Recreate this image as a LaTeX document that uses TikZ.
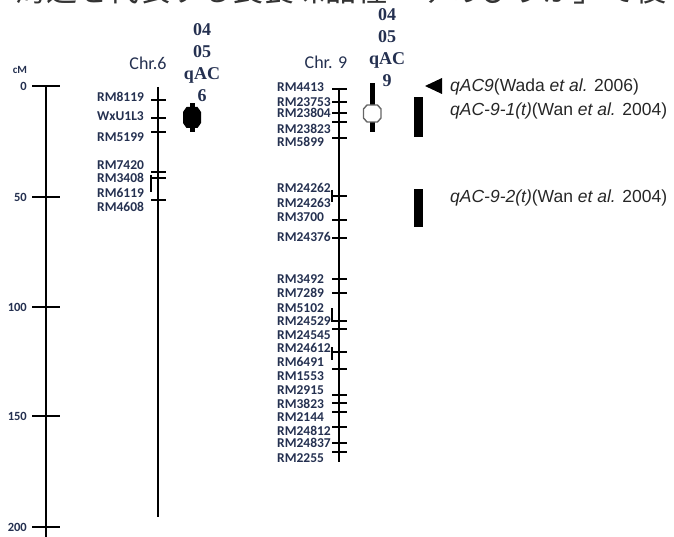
\documentclass[tikz,border=0pt]{standalone}
\usepackage{fontspec}
\setmainfont{Carlito}
\newfontfamily\serifbf{Liberation Serif}
\newfontfamily\arialf{Liberation Sans}
\newfontfamily\cjk{Noto Sans CJK JP}
\usetikzlibrary{positioning}
\definecolor{labnavy}{HTML}{243050}
\tikzstyle{mk} = [anchor=west, inner sep=0pt, font=\fontsize{13.5}{14}\selectfont\bfseries, text=labnavy]
\tikzstyle{axlab} = [anchor=east, inner sep=0pt, font=\fontsize{12.5}{13}\selectfont\bfseries, text=labnavy]
\tikzstyle{chrtitle} = [inner sep=0pt, font=\fontsize{18}{20}\selectfont, text=labnavy]
\tikzstyle{qtl} = [align=center, inner sep=0pt, font=\serifbf\fontsize{18}{22}\selectfont\bfseries, text=labnavy]
\tikzstyle{ref} = [anchor=west, inner sep=0pt, font=\arialf\fontsize{17.5}{20}\selectfont, text=black!85]
\tikzstyle{chr} = [line width=1.3pt]

\begin{document}
\begin{tikzpicture}[x=1pt, y=-1pt]
  \useasboundingbox (0,0) rectangle (674,537);
  \clip (0,0) rectangle (674,537);

  % cut-off line of text above the figure
  \node[anchor=base west, inner sep=0pt, font=\cjk\fontsize{31}{31}\selectfont, text=black!80] (head) at (15,1.5) {海道を代表する良食味品種「ゆめぴりか」で後};

  % scale bar
  \node[inner sep=0pt, font=\fontsize{11}{12}\selectfont\bfseries, text=labnavy] (cm) at (20,70) {cM};
  \coordinate (axtop) at (46,86);
  \coordinate (axbot) at (46,545);
  \draw[chr] (axtop) -- (axbot);
  \draw[chr] (32,86) -- (60,86) (32,197) -- (60,197) (32,307) -- (60,307) (32,416) -- (60,416) (32,527) -- (60,527);
  \node[axlab] (a0) at (27,86) {0};
  \node[axlab] (a50) at (27,197) {50};
  \node[axlab] (a100) at (27,307) {100};
  \node[axlab] (a150) at (27,416) {150};
  \node[axlab] (a200) at (27,527) {200};

  % chromosome 6
  \node[chrtitle] (t6) at (148,63) {Chr.6};
  \coordinate (c6top) at (158,87);
  \coordinate (c6bot) at (158,517);
  \draw[chr] (c6top) -- (c6bot);
  \draw[line width=1.2pt] (151,100) -- (166,100) (151,118) -- (166,118) (151,132) -- (166,132)
    (151,172) -- (166,172) (151,178) -- (166,178) (151,200) -- (166,200);
  \draw[line width=1.2pt] (151,175) -- (151,192);
  \node[mk] (rm8119) at (97,97) {RM8119};
  \node[mk] (wxu1l3) at (97,116) {WxU1L3};
  \node[mk] (rm5199) at (97,137) {RM5199};
  \node[mk] (rm7420) at (97,165) {RM7420};
  \node[mk] (rm3408) at (97,178) {RM3408};
  \node[mk] (rm6119) at (97,193) {RM6119};
  \node[mk] (rm4608) at (97,207) {RM4608};

  % qtl on chr 6
  \fill (189.5,103) rectangle (194.5,132);
  \fill (183,112) -- (186.5,107) -- (197.5,107) -- (201,112) -- (201,123) -- (197.5,128) -- (186.5,128) -- (183,123) -- cycle;
  \node[qtl] (q6) at (202,63) {04\\05\\qAC\\6};

  % chromosome 9
  \node[chrtitle] (t9) at (326,62) {Chr. 9};
  \coordinate (c9top) at (339,88);
  \coordinate (c9bot) at (339,462);
  \draw[chr] (c9top) -- (c9bot);
  \draw[line width=1.2pt] (332,89) -- (347,89) (332,102) -- (347,102) (332,113) -- (347,113)
    (332,122) -- (347,122) (332,138) -- (347,138) (332,196) -- (347,196) (332,220) -- (347,220)
    (332,238) -- (347,238) (332,279) -- (347,279) (332,293) -- (347,293) (332,321) -- (347,321)
    (332,329) -- (347,329) (332,352) -- (347,352) (332,369) -- (347,369) (332,395) -- (347,395)
    (332,403) -- (347,403) (332,412) -- (347,412) (332,427) -- (347,427) (332,443) -- (347,443)
    (332,452) -- (347,452);
  \draw[line width=1.2pt] (332,190) -- (332,202) (332,308) -- (332,322) (332,347) -- (332,360);
  \node[mk] (rm4413) at (277,87) {RM4413};
  \node[mk] (rm23753) at (277,102) {RM23753};
  \node[mk] (rm23804) at (277,113) {RM23804};
  \node[mk] (rm23823) at (277,129) {RM23823};
  \node[mk] (rm5899) at (277,142) {RM5899};
  \node[mk] (rm24262) at (277,188) {RM24262};
  \node[mk] (rm24263) at (277,203) {RM24263};
  \node[mk] (rm3700) at (277,217) {RM3700};
  \node[mk] (rm24376) at (277,237) {RM24376};
  \node[mk] (rm3492) at (277,279) {RM3492};
  \node[mk] (rm7289) at (277,293) {RM7289};
  \node[mk] (rm5102) at (277,308) {RM5102};
  \node[mk] (rm24529) at (277,321) {RM24529};
  \node[mk] (rm24545) at (277,335) {RM24545};
  \node[mk] (rm24612) at (277,348) {RM24612};
  \node[mk] (rm6491) at (277,362) {RM6491};
  \node[mk] (rm1553) at (277,376) {RM1553};
  \node[mk] (rm2915) at (277,390) {RM2915};
  \node[mk] (rm3823) at (277,404) {RM3823};
  \node[mk] (rm2144) at (277,417) {RM2144};
  \node[mk] (rm24812) at (277,431) {RM24812};
  \node[mk] (rm24837) at (277,443) {RM24837};
  \node[mk] (rm2255) at (277,458) {RM2255};

  % qtl on chr 9
  \fill (370,83) rectangle (374.5,132);
  \filldraw[fill=white, draw=black!60, line width=1.4pt] (363.5,109) -- (367,105) -- (377.5,105) -- (381,109) -- (381,118) -- (377.5,122) -- (367,122) -- (363.5,118) -- cycle;
  \node[qtl] (q9) at (387,48) {04\\05\\qAC\\9};

  % earlier reports
  \fill (425,86) -- (442,78) -- (442,94) -- cycle;
  \coordinate (tri) at (442,87);
  \fill (414,97) rectangle (423,137);
  \coordinate (bar1) at (423,111);
  \fill (414,189) rectangle (423,227);
  \coordinate (bar2) at (423,198);
  \node[ref, right=8pt of tri] (r1) {\textit{qAC9}(Wada \textit{et al.} 2006)};
  \node[ref, right=27pt of bar1] (r2) {\textit{qAC-9-1(t)}(Wan \textit{et al.} 2004)};
  \node[ref, right=27pt of bar2] (r3) {\textit{qAC-9-2(t)}(Wan \textit{et al.} 2004)};
\end{tikzpicture}
\end{document}
